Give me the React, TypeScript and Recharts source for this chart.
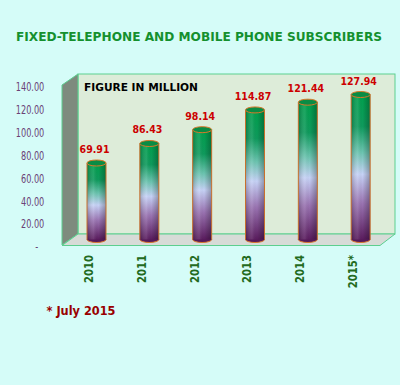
import { ComposedChart, Bar, Line, XAxis, YAxis, LabelList } from "recharts";

const years = ["2010", "2011", "2012", "2013", "2014", "2015*"];
const subscribers = [69.91, 86.43, 98.14, 114.87, 121.44, 127.94];
const yTicks = [0, 20, 40, 60, 80, 100, 120, 140];

const data = years.map((year, i) => ({ year, value: subscribers[i] }));

const FONT = "'DejaVu Sans', Verdana, sans-serif";
const TICK_RIGHT = 44.3;

function Cylinder(props: any) {
  const { x, y, width, height } = props;
  if (!height) return null;
  const cx = x + width / 2;
  const rx = width / 2;
  const ry = 3;
  const bottom = y + height - 6;
  return (
    <g>
      <ellipse cx={cx} cy={bottom} rx={rx} ry={ry} fill="#561a5a" stroke="#d8782a" strokeWidth={1} />
      <rect x={x} y={y} width={width} height={bottom - y} fill="url(#cylV)" />
      <rect x={x} y={y} width={width} height={bottom - y} fill="url(#cylH)" />
      <line x1={x} y1={y} x2={x} y2={bottom} stroke="#c8702c" strokeWidth={1} />
      <line x1={x + width} y1={y} x2={x + width} y2={bottom} stroke="#c8702c" strokeWidth={1} />
      <ellipse cx={cx} cy={y} rx={rx} ry={ry} fill="#0a8c44" stroke="#d8782a" strokeWidth={1} />
    </g>
  );
}

function ValueLabel(props: any) {
  const { x, y, width, value } = props;
  const cx = x + width / 2 - 2;
  return (
    <g transform={`translate(${cx},${y - 10}) scale(0.86,1)`}>
      <text textAnchor="middle" fontFamily={FONT} fontWeight="bold" fontSize={11} fill="#cc0000">
        {Number(value).toFixed(2)}
      </text>
    </g>
  );
}

function YTick(props: any) {
  const { y, payload } = props;
  const v = payload.value;
  const label = v === 0 ? "-" : v.toFixed(2);
  const tx = v === 0 ? TICK_RIGHT - 6 : TICK_RIGHT;
  return (
    <g transform={`translate(${tx},${y + 4.3}) scale(0.68,1)`}>
      <text textAnchor="end" fontFamily={FONT} fontSize={12} fill="#6b4276">
        {label}
      </text>
    </g>
  );
}

function XTick(props: any) {
  const { x, y, payload } = props;
  return (
    <g transform={`translate(${x - 3.5},${y}) rotate(-90)`}>
      <text textAnchor="end" fontFamily={FONT} fontWeight="bold" fontSize={12} fill="#236b1e"
        transform="scale(0.84,1)">
        {payload.value}
      </text>
    </g>
  );
}

export default function App() {
  return (
    <div style={{ position: "absolute", left: 0, top: 0, width: 400, height: 385, background: "#d5fcf8", overflow: "hidden" }}>
      <svg width={400} height={385} style={{ position: "absolute", left: 0, top: 0 }}>
        <defs>
          <linearGradient id="cylV" x1="0" y1="0" x2="0" y2="1">
            <stop offset="0%" stopColor="#00a04c" />
            <stop offset="22%" stopColor="#0e9a5c" />
            <stop offset="40%" stopColor="#6cc4b0" />
            <stop offset="55%" stopColor="#c6d2f6" />
            <stop offset="75%" stopColor="#9a74b2" />
            <stop offset="100%" stopColor="#5a1c5e" />
          </linearGradient>
          <linearGradient id="cylH" x1="0" y1="0" x2="1" y2="0">
            <stop offset="0%" stopColor="#000" stopOpacity={0.22} />
            <stop offset="35%" stopColor="#fff" stopOpacity={0.1} />
            <stop offset="60%" stopColor="#000" stopOpacity={0} />
            <stop offset="100%" stopColor="#000" stopOpacity={0.28} />
          </linearGradient>
        </defs>
        <text x={16} y={40.5} textLength={366} lengthAdjust="spacingAndGlyphs" fontFamily={FONT}
          fontWeight="bold" fontSize={12} fill="#14902e">
          FIXED-TELEPHONE AND MOBILE PHONE SUBSCRIBERS
        </text>
        <rect x={78} y={74} width={317} height={160} fill="#ddecd9" stroke="#5ccf8f" strokeWidth={1} />
        <polygon points="62,85 78,74 78,234 62,245" fill="#7e8b7e" stroke="#5ccf8f" strokeWidth={1} />
        <polygon points="78,234 395,234 380,245.5 62,245.5" fill="#d7dbd7" stroke="#5ccf8f" strokeWidth={1} />
        <text x={84} y={91.3} textLength={114} lengthAdjust="spacingAndGlyphs" fontFamily={FONT}
          fontWeight="bold" fontSize={10} fill="#000">
          FIGURE IN MILLION
        </text>
        <text x={46.5} y={314.5} textLength={69} lengthAdjust="spacingAndGlyphs" fontFamily={FONT}
          fontWeight="bold" fontSize={12} fill="#990000">
          * July 2015
        </text>
      </svg>
      <div style={{ position: "absolute", left: 0, top: 0 }}>
        <ComposedChart width={400} height={385} data={data}
          margin={{ top: 87, right: 13, bottom: 108, left: 0 }}>
          <XAxis dataKey="year" height={30} axisLine={false} tickLine={false} tick={<XTick />} interval={0} />
          <YAxis yAxisId="tick" type="number" domain={[0, 140]} ticks={yTicks} width={70}
            axisLine={false} tickLine={false} tick={<YTick />} interval={0} />
          <YAxis yAxisId="bar" type="number" domain={[-1.27, 134.3]} hide allowDataOverflow />
          <Bar yAxisId="bar" dataKey="value" barSize={19} shape={<Cylinder />} isAnimationActive={false}>
            <LabelList dataKey="value" content={<ValueLabel />} />
          </Bar>
          <Line yAxisId="tick" dataKey="value" stroke="none" dot={false} activeDot={false}
            legendType="none" isAnimationActive={false} />
        </ComposedChart>
      </div>
    </div>
  );
}
